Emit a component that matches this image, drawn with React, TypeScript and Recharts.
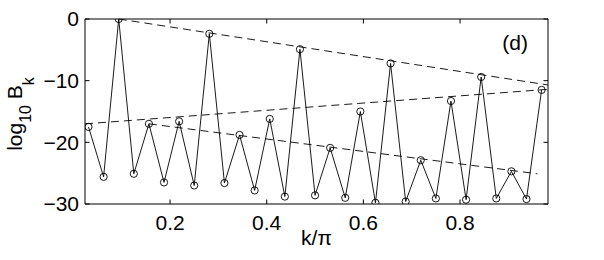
import React from 'react'
import {
  ComposedChart,
  Line,
  XAxis,
  YAxis,
  ReferenceLine,
  ReferenceArea,
  ReferenceDot,
} from 'recharts'

// k/pi positions of the sampled modes
const kOverPi = [
  0.03125, 0.0625, 0.09375, 0.125, 0.15625, 0.1875, 0.21875, 0.25, 0.28125, 0.3125,
  0.34375, 0.375, 0.40625, 0.4375, 0.46875, 0.5, 0.53125, 0.5625, 0.59375, 0.625,
  0.65625, 0.6875, 0.71875, 0.75, 0.78125, 0.8125, 0.84375, 0.875, 0.90625, 0.9375,
  0.96875,
]

// log10 B_k
const logBk = [
  -17.5, -25.6, 0, -25.1, -17.0, -26.5, -16.6, -27.0, -2.4, -26.6,
  -18.8, -27.8, -16.2, -28.8, -4.9, -28.6, -20.9, -29.0, -15.0, -29.8,
  -7.2, -29.6, -22.9, -29.1, -13.3, -29.3, -9.4, -29.1, -24.7, -29.2,
  -11.5,
]

// dashed guide lines (envelopes)
const upperEnvelope = [
  { x: 0.09375, y: 0 },
  { x: 0.982, y: -10.7 },
]
const middleEnvelope = [
  { x: 0.024, y: -17.0 },
  { x: 0.982, y: -11.4 },
]
const lowerEnvelope = [
  { x: 0.15625, y: -17.0 },
  { x: 0.96, y: -25.1 },
]

const xDomain = [0.024, 0.982]
const yDomain = [-30, 0]
const xTicks = [0.2, 0.4, 0.6, 0.8]
const yTicks = [-30, -20, -10, 0]

const FONT = '"Liberation Sans", Arial, Helvetica, sans-serif'
const INK = '#000'
// inward tick length in data units (~4.5px)
const X_TICK_LEN = 0.73
const Y_TICK_LEN = 0.0093

const data = kOverPi.map((k, i) => ({ k, v: logBk[i] }))

const fmt = (v: number) => String(v).replace('-', '\u2212')

const YLabel = (props: any) => {
  const vb = props.viewBox || { x: 0, y: 19, width: 85, height: 185 }
  const cx = vb.x + 21.5
  const cy = vb.y + vb.height / 2 + 2.5
  return (
    <text
      transform={`rotate(-90, ${cx}, ${cy})`}
      x={cx}
      y={cy}
      textAnchor="middle"
      fontSize={21}
      fill={INK}
      fontFamily={FONT}
    >
      log
      <tspan fontSize={16} dy={9}>10</tspan>
      <tspan dy={-9}> B</tspan>
      <tspan fontSize={16} dy={12}>k</tspan>
    </text>
  )
}

const XLabel = (props: any) => {
  const vb = props.viewBox || { x: 85, y: 204, width: 463, height: 56 }
  return (
    <text x={vb.x + vb.width / 2} y={vb.y + 41} textAnchor="middle" fontSize={21} fill={INK} fontFamily={FONT}>
      k/π
    </text>
  )
}

export default function App() {
  return (
    <div style={{ position: 'absolute', left: 0, top: 0, background: '#fff' }}>
      <ComposedChart
        width={604}
        height={260}
        data={data}
        margin={{ top: 19, right: 56, bottom: 0, left: 0 }}
        style={{ fontFamily: FONT }}
      >
        <XAxis
          dataKey="k"
          type="number"
          domain={xDomain}
          ticks={xTicks}
          allowDataOverflow
          interval={0}
          axisLine={false}
          tickLine={false}
          tickSize={0}
          tickMargin={11}
          height={56}
          tick={{ fontSize: 21, fill: INK, fontFamily: FONT }}
          tickFormatter={(v: number) => v.toFixed(1)}
          label={(p: any) => <XLabel {...p} />}
        />
        <YAxis
          type="number"
          domain={yDomain}
          ticks={yTicks}
          allowDataOverflow
          interval={0}
          axisLine={false}
          tickLine={false}
          tickSize={0}
          tickMargin={6}
          width={85}
          tick={{ fontSize: 21, fill: INK, fontFamily: FONT }}
          tickFormatter={fmt}
          label={(p: any) => <YLabel {...p} />}
        />

        {/* box */}
        <ReferenceArea
          x1={xDomain[0]}
          x2={xDomain[1]}
          y1={yDomain[0]}
          y2={yDomain[1]}
          fill="none"
          fillOpacity={0}
          stroke={INK}
          strokeWidth={1}
          ifOverflow="visible"
        />

        {/* inward ticks, matlab style */}
        {xTicks.map((t) => (
          <ReferenceLine
            key={`xb${t}`}
            segment={[{ x: t, y: yDomain[0] }, { x: t, y: yDomain[0] + X_TICK_LEN }]}
            stroke={INK}
            ifOverflow="visible"
          />
        ))}
        {xTicks.map((t) => (
          <ReferenceLine
            key={`xt${t}`}
            segment={[{ x: t, y: yDomain[1] }, { x: t, y: yDomain[1] - X_TICK_LEN }]}
            stroke={INK}
            ifOverflow="visible"
          />
        ))}
        {yTicks.map((t) => (
          <ReferenceLine
            key={`yl${t}`}
            segment={[{ x: xDomain[0], y: t }, { x: xDomain[0] + Y_TICK_LEN, y: t }]}
            stroke={INK}
            ifOverflow="visible"
          />
        ))}
        {yTicks.map((t) => (
          <ReferenceLine
            key={`yr${t}`}
            segment={[{ x: xDomain[1], y: t }, { x: xDomain[1] - Y_TICK_LEN, y: t }]}
            stroke={INK}
            ifOverflow="visible"
          />
        ))}

        {/* dashed envelopes */}
        {[upperEnvelope, middleEnvelope, lowerEnvelope].map((seg, i) => (
          <ReferenceLine
            key={`env${i}`}
            segment={seg}
            stroke={INK}
            strokeWidth={0.9}
            strokeDasharray="8 5"
            ifOverflow="visible"
          />
        ))}

        <Line
          dataKey="v"
          type="linear"
          stroke={INK}
          strokeWidth={0.9}
          dot={{ r: 3.6, stroke: INK, strokeWidth: 0.9, fill: 'none' }}
          activeDot={false}
          isAnimationActive={false}
        />

        <ReferenceDot
          x={0.914}
          y={-3.8}
          r={0}
          fill="none"
          stroke="none"
          label={{ value: '(d)', position: 'center', fontSize: 21, fill: INK, fontFamily: FONT }}
        />
      </ComposedChart>
    </div>
  )
}
